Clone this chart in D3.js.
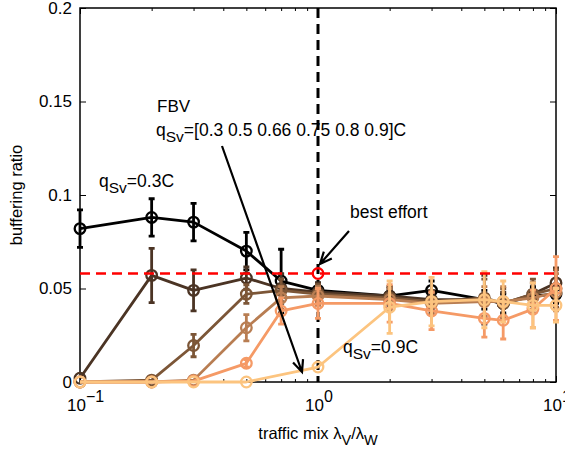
<!DOCTYPE html>
<html>
<head>
  <meta charset="utf-8">
  <title>buffering ratio vs traffic mix</title>
  <script src="https://d3js.org/d3.v7.min.js"></script>
  <style>
    body { margin: 0; background: #fff; }
    text { font-family: "Liberation Sans", Arial, sans-serif; fill: #000; }
  </style>
</head>
<body>
  <div id="chart"></div>
  <script>
    // traffic mix values (x) shared by all series
    var mix = [0.1, 0.2, 0.3, 0.5, 0.7, 1, 2, 3, 5, 6, 8, 10];

    // FBV series, one per q_Sv value (null = no point)
    var qSv = ["0.3", "0.5", "0.66", "0.75", "0.8", "0.9"];
    var colors = ["#000000", "#4b3424", "#7c5637", "#b87d52", "#f59a66", "#fcc47f"];

    var ratio03 = [0.082, 0.088, 0.0855, 0.070, 0.054, 0.049, 0.046, 0.049, 0.044, 0.042, 0.046, 0.047];
    var ratio05 = [0.002, 0.057, 0.049, 0.0556, 0.050, 0.048, 0.046, 0.044, 0.044, 0.042, 0.047, 0.053];
    var ratio066 = [0.000, 0.001, 0.0195, 0.047, 0.049, 0.047, 0.045, 0.043, 0.045, 0.042, 0.047, 0.050];
    var ratio075 = [0.000, 0.000, 0.001, 0.029, 0.045, 0.046, 0.044, 0.042, 0.043, 0.043, 0.045, 0.048];
    var ratio08 = [0.000, 0.000, 0.0005, 0.0100, 0.038, 0.042, 0.042, 0.038, 0.034, 0.033, 0.039, 0.050];
    var ratio09 = [0.000, 0.000, 0.000, 0.000, null, 0.008, 0.040, 0.043, 0.044, 0.043, 0.041, 0.041];

    // half-width of error bars
    var err03 = [0.010, 0.010, 0.010, 0.010, 0.017, 0.004, 0.004, 0.005, 0.005, 0.005, 0.005, 0.005];
    var err05 = [0.001, 0.0145, 0.011, 0.006, 0.008, 0.005, 0.005, 0.005, 0.013, 0.006, 0.006, 0.008];
    var err066 = [0.000, 0.001, 0.006, 0.005, 0.006, 0.005, 0.006, 0.006, 0.010, 0.008, 0.008, 0.010];
    var err075 = [0.000, 0.000, 0.001, 0.007, 0.006, 0.005, 0.006, 0.006, 0.008, 0.008, 0.008, 0.010];
    var err08 = [0.000, 0.000, 0.0005, 0.002, 0.007, 0.008, 0.010, 0.010, 0.010, 0.010, 0.010, 0.017];
    var err09 = [0.000, 0.000, 0.000, 0.000, null, 0.001, 0.014, 0.013, 0.015, 0.011, 0.012, 0.009];

    var ratios = [ratio03, ratio05, ratio066, ratio075, ratio08, ratio09];
    var errs = [err03, err05, err066, err075, err08, err09];

    // best effort reference
    var bestEffort = 0.058;
    var bestEffortMix = 1;

    var yTicks = [0, 0.05, 0.1, 0.15, 0.2];
    var yTickLabels = ["0", "0.05", "0.1", "0.15", "0.2"];
    var xMajor = [0.1, 1, 10];
    var xMajorExp = ["\u22121", "0", "1"];

    var margin = { top: 8, right: 9, bottom: 71, left: 80 },
      width = 565 - margin.left - margin.right,
      height = 453 - margin.top - margin.bottom;

    var svg = d3.select("#chart")
      .append("svg")
      .attr("width", 565)
      .attr("height", 453)
      .append("g")
      .attr("transform", "translate(" + margin.left + "," + margin.top + ")");

    var x = d3.scaleLog().domain([0.1, 10]).range([0, width]);
    var y = d3.scaleLinear().domain([0, 0.2]).range([height, 0]);

    // minor ticks 2..9 per decade
    var xMinor = [];
    [0.1, 1].forEach(function (d) {
      for (var k = 2; k <= 9; k++) xMinor.push(d * k);
    });

    // axes (ticks inside, box)
    svg.append("g")
      .attr("transform", "translate(0," + height + ")")
      .call(d3.axisBottom(x).tickValues(xMajor).tickSize(-6).tickFormat(""))
      .call(function (g) { g.select(".domain").remove(); });
    svg.append("g")
      .attr("transform", "translate(0," + height + ")")
      .call(d3.axisBottom(x).tickValues(xMinor).tickSize(-3).tickFormat(""))
      .call(function (g) { g.select(".domain").remove(); });
    svg.append("g")
      .call(d3.axisTop(x).tickValues(xMajor).tickSize(-6).tickFormat(""))
      .call(function (g) { g.select(".domain").remove(); });
    svg.append("g")
      .call(d3.axisTop(x).tickValues(xMinor).tickSize(-3).tickFormat(""))
      .call(function (g) { g.select(".domain").remove(); });
    svg.append("g")
      .call(d3.axisLeft(y).tickValues(yTicks).tickSize(-6)
        .tickFormat(function (d, i) { return yTickLabels[i]; }))
      .call(function (g) {
        g.select(".domain").remove();
        g.selectAll("text").attr("x", -8).style("font-size", "17px")
          .style("font-family", "Liberation Sans, Arial, sans-serif");
      });
    svg.append("g")
      .attr("transform", "translate(" + width + ",0)")
      .call(d3.axisRight(y).tickValues(yTicks).tickSize(-6).tickFormat(""))
      .call(function (g) { g.select(".domain").remove(); });
    svg.selectAll(".tick line").attr("stroke", "#000").attr("stroke-width", 1);

    svg.append("rect")
      .attr("width", width).attr("height", height)
      .attr("fill", "none").attr("stroke", "#000").attr("stroke-width", 1.5);

    // x tick labels as 10^n ("10" starts just left of the tick)
    xMajor.forEach(function (d, i) {
      var t = svg.append("text")
        .attr("x", x(d) - 13)
        .attr("y", height + 29)
        .style("font-size", "17px");
      t.append("tspan").text("10");
      t.append("tspan").attr("dy", -9).style("font-size", "16px").text(xMajorExp[i]);
    });

    // vertical dashed line at traffic mix = 1
    svg.append("line")
      .attr("x1", x(bestEffortMix)).attr("x2", x(bestEffortMix))
      .attr("y1", 0).attr("y2", height)
      .attr("stroke", "#000").attr("stroke-width", 3)
      .attr("stroke-dasharray", "10,6");

    // series
    var line = d3.line()
      .x(function (d) { return x(d.m); })
      .y(function (d) { return y(d.v); });

    ratios.forEach(function (vals, s) {
      var pts = mix.map(function (m, i) { return { m: m, v: vals[i], e: errs[s][i] }; });
      var okPts = pts.filter(function (d) { return d.v !== null; });
      var g = svg.append("g");

      g.append("path")
        .datum(okPts)
        .attr("fill", "none")
        .attr("stroke", colors[s])
        .attr("stroke-width", 2.8)
        .attr("stroke-linejoin", "round")
        .attr("d", line);

      g.selectAll(".eb")
        .data(okPts.filter(function (d) { return d.e > 0.0015; }))
        .enter().append("path")
        .attr("fill", "none")
        .attr("stroke", colors[s])
        .attr("stroke-width", 2.8)
        .attr("d", function (d) {
          var cx = x(d.m), t = y(d.v + d.e), b = y(d.v - d.e);
          return "M" + cx + "," + t + "V" + b +
            "M" + (cx - 3) + "," + t + "H" + (cx + 3) +
            "M" + (cx - 3) + "," + b + "H" + (cx + 3);
        });

      g.selectAll("circle")
        .data(okPts)
        .enter().append("circle")
        .attr("cx", function (d) { return x(d.m); })
        .attr("cy", function (d) { return y(d.v); })
        .attr("r", 5.3)
        .attr("fill", "none")
        .attr("stroke", colors[s])
        .attr("stroke-width", 2.3);
    });

    // best effort line and marker
    svg.append("line")
      .attr("x1", 0).attr("x2", width)
      .attr("y1", y(bestEffort)).attr("y2", y(bestEffort))
      .attr("stroke", "#f00").attr("stroke-width", 2.5)
      .attr("stroke-dasharray", "10,6");
    svg.append("circle")
      .attr("cx", x(bestEffortMix)).attr("cy", y(bestEffort))
      .attr("r", 5.3).attr("fill", "none")
      .attr("stroke", "#f00").attr("stroke-width", 2.3);

    // annotations (page coordinates)
    var page = d3.select("svg");

    function arrow(x1, y1, x2, y2) {
      var a = Math.atan2(y2 - y1, x2 - x1), L = 13, w = 0.42;
      page.append("path")
        .attr("fill", "none").attr("stroke", "#000").attr("stroke-width", 2.2)
        .attr("d", "M" + x1 + "," + y1 + "L" + x2 + "," + y2 +
          "M" + (x2 - L * Math.cos(a - w)) + "," + (y2 - L * Math.sin(a - w)) +
          "L" + x2 + "," + y2 +
          "L" + (x2 - L * Math.cos(a + w)) + "," + (y2 - L * Math.sin(a + w)));
    }

    function qLabel(px, py, rest) {
      var t = page.append("text").attr("x", px).attr("y", py).style("font-size", "17.5px");
      t.append("tspan").text("q");
      t.append("tspan").attr("dy", 6).style("font-size", "15.5px").text("Sv");
      t.append("tspan").attr("dy", -6).text(rest);
    }

    page.append("text").attr("x", 157).attr("y", 112).style("font-size", "17px").text("FBV");
    qLabel(156, 136, "=[" + qSv.join(" ") + "]C");
    qLabel(99, 187, "=" + qSv[0] + "C");
    qLabel(343, 353, "=" + qSv[qSv.length - 1] + "C");
    page.append("text").attr("x", 350).attr("y", 218).style("font-size", "17.5px").text("best effort");

    arrow(222, 146, 302, 372);
    arrow(349, 231, 320, 264);

    // axis labels
    page.append("text")
      .attr("transform", "translate(22," + (margin.top + height / 2) + ") rotate(-90)")
      .attr("text-anchor", "middle")
      .style("font-size", "16.5px")
      .text("buffering ratio");

    var xl = page.append("text")
      .attr("x", margin.left + width / 2)
      .attr("y", 439)
      .attr("text-anchor", "middle")
      .style("font-size", "16.5px");
    xl.append("tspan").text("traffic mix \u03bb");
    xl.append("tspan").attr("dy", 6).style("font-size", "14.5px").text("V");
    xl.append("tspan").attr("dy", -6).text("/\u03bb");
    xl.append("tspan").attr("dy", 6).style("font-size", "14.5px").text("W");
  </script>
</body>
</html>
